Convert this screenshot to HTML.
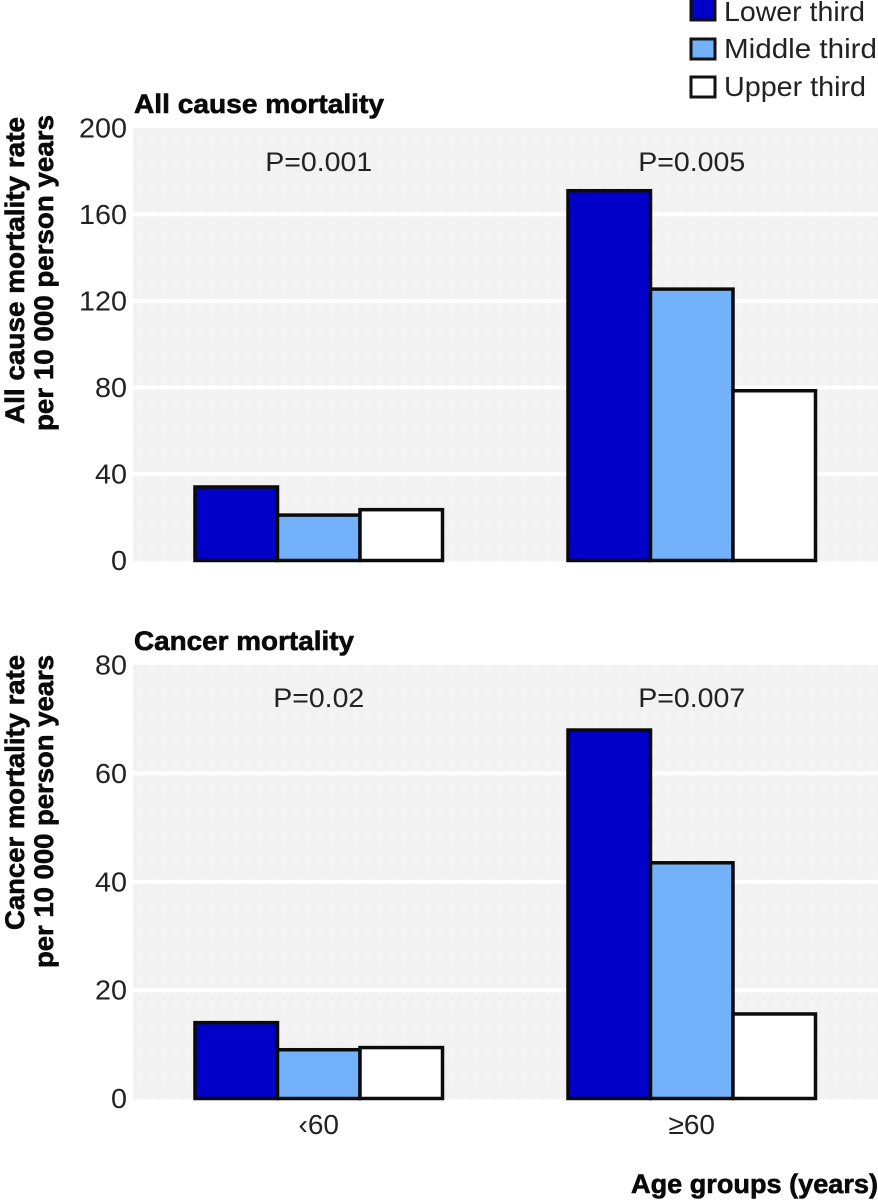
<!DOCTYPE html>
<html lang="en">
<head>
<meta charset="utf-8">
<title>Mortality rate by age group and thirds</title>
<style>
html,body{margin:0;padding:0;background:#fff;width:878px;height:1200px;overflow:hidden}
svg{display:block}
text{font-family:"Liberation Sans",sans-serif;fill:#222}
.b{font-weight:700;fill:#0a0a0a;stroke:#0a0a0a;stroke-width:.6px}
</style>
</head>
<body>
<svg id="chart" xmlns="http://www.w3.org/2000/svg" width="878" height="1200" viewBox="0 0 878 1200">
<defs>
<pattern id="tex" width="12" height="12" patternUnits="userSpaceOnUse">
<rect width="12" height="12" fill="#f4f4f4"/>
<rect x="0" y="0" width="5" height="12" fill="#f1f1f1"/>
<rect x="0" y="0" width="12" height="5" fill="#f2f2f2"/>
</pattern>
</defs>
<g id="legend">
<g>
<rect x="691" y="-2" width="24" height="22" fill="#0000c8" stroke="#111" stroke-width="3"/>
<text x="724" y="21" font-size="28" textLength="141" lengthAdjust="spacingAndGlyphs">Lower third</text>
</g>
<g>
<rect x="691" y="39" width="24" height="20" fill="#73b2fa" stroke="#111" stroke-width="3"/>
<text x="724" y="58" font-size="28" textLength="153" lengthAdjust="spacingAndGlyphs">Middle third</text>
</g>
<g>
<rect x="691" y="77" width="24" height="20" fill="#fff" stroke="#111" stroke-width="3"/>
<text x="724" y="96" font-size="28" textLength="142" lengthAdjust="spacingAndGlyphs">Upper third</text>
</g>
</g>
<text class="b" x="134" y="113" font-size="27" textLength="250" lengthAdjust="spacingAndGlyphs">All cause mortality</text>
<text class="b" x="134" y="650" font-size="27" textLength="220" lengthAdjust="spacingAndGlyphs">Cancer mortality</text>
<text class="b" transform="translate(24,424) rotate(-90)" font-size="27" textLength="307" lengthAdjust="spacingAndGlyphs">All cause mortality rate</text>
<text class="b" transform="translate(53,431) rotate(-90)" font-size="27" textLength="316" lengthAdjust="spacingAndGlyphs">per 10 000 person years</text>
<text class="b" transform="translate(24,930) rotate(-90)" font-size="27" textLength="275" lengthAdjust="spacingAndGlyphs">Cancer mortality rate</text>
<text class="b" transform="translate(53,968) rotate(-90)" font-size="27" textLength="313" lengthAdjust="spacingAndGlyphs">per 10 000 person years</text>
<text class="b" x="631" y="1193" font-size="27" textLength="247" lengthAdjust="spacingAndGlyphs">Age groups (years)</text>
</svg>
<script>
const ageGroups = ['\u203960', '\u226560'];
const seriesNames = ['Lower third', 'Middle third', 'Upper third'];
const allCauseLower = [34, 171];
const allCauseMiddle = [21, 125.5];
const allCauseUpper = [23.5, 78.5];
const cancerLower = [14, 68];
const cancerMiddle = [9, 43.5];
const cancerUpper = [9.4, 15.6];
const allCauseTicks = [0, 40, 80, 120, 160, 200];
const cancerTicks = [0, 20, 40, 60, 80];
const allCausePValues = ['P=0.001', 'P=0.005'];
const cancerPValues = ['P=0.02', 'P=0.007'];

const NS = 'http://www.w3.org/2000/svg';
const svg = document.getElementById('chart');
const legend = document.getElementById('legend');
const seriesFills = ['#0000c8', '#73b2fa', '#ffffff'];
const plotLeft = 133, plotRight = 878;
const groupLeft = [195, 568];
const barWidth = 82.5;

function make(tag, attrs) {
  const el = document.createElementNS(NS, tag);
  for (const k in attrs) el.setAttribute(k, attrs[k]);
  return el;
}

function drawPanel(key, top, bottom, maxV, ticks, series, pValues, pY) {
  const yScale = v => bottom - (v / maxV) * (bottom - top);
  const g = make('g', {});
  
  
  svg.insertBefore(g, legend);

  const bg = make('rect', {x: plotLeft, y: top, width: plotRight - plotLeft, height: bottom - top + 1, fill: 'url(#tex)'});
  
  
  g.appendChild(bg);

  ticks.forEach(t => {
    const y = yScale(t);
    if (t !== 0 && t !== maxV) {
      const line = make('rect', {x: plotLeft, y: y - 2, width: plotRight - plotLeft, height: 4, fill: '#ffffff'});
      
      
      g.appendChild(line);
    }
    const text = String(t);
    const label = make('text', {x: 127, y: y + 9.5, 'font-size': 28, 'text-anchor': 'end', textLength: 16 * text.length, lengthAdjust: 'spacingAndGlyphs'});
    label.textContent = text;
    
    
    g.appendChild(label);
  });

  pValues.forEach((p, i) => {
    const label = make('text', {x: groupLeft[i] + barWidth * 1.5, y: pY, 'font-size': 27, 'text-anchor': 'middle', textLength: p.length === 7 ? 107 : 91, lengthAdjust: 'spacingAndGlyphs'});
    label.textContent = p;
    
    
    g.appendChild(label);
  });

  series.forEach((values, s) => {
    values.forEach((v, i) => {
      const y = yScale(v);
      const bar = make('rect', {
        x: groupLeft[i] + s * barWidth,
        y: y,
        width: barWidth,
        height: bottom - y,
        fill: seriesFills[s],
        stroke: '#0b0b0b',
        'stroke-width': 3.5
      });
      
      
      g.appendChild(bar);
    });
  });
}

drawPanel('all-cause', 128, 560.5, 200, allCauseTicks, [allCauseLower, allCauseMiddle, allCauseUpper], allCausePValues, 171);
drawPanel('cancer', 665, 1098.5, 80, cancerTicks, [cancerLower, cancerMiddle, cancerUpper], cancerPValues, 707);

ageGroups.forEach((name, i) => {
  const label = make('text', {x: groupLeft[i] + barWidth * 1.5, y: 1134, 'font-size': 28, 'text-anchor': 'middle'});
  label.textContent = name;
  
  
  svg.appendChild(label);
});
</script>
</body>
</html>
